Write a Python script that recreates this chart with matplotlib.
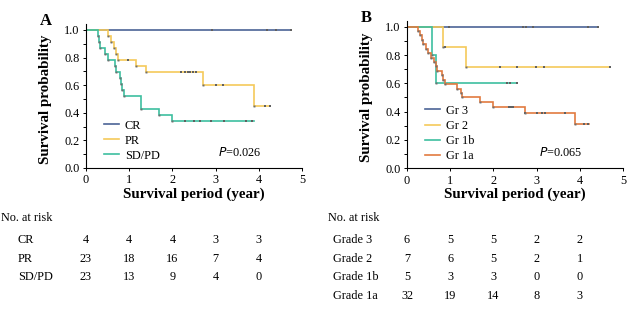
import matplotlib
matplotlib.use("Agg")
import matplotlib.pyplot as plt
import numpy as np

plt.rcParams['font.family'] = ['Liberation Serif', 'DejaVu Serif']

# ---------------- Panel A data ----------------
a_names = ["CR", "PR", "SD/PD"]
a_colors = ["#4b6496", "#f5c95a", "#3dbf9f"]
a_end = [4.75, 4.25, 3.88]
a_event_t = [
    [],
    [0.50, 0.58, 0.65, 0.70, 0.75, 1.16, 1.38, 2.70, 3.88],
    [0.27, 0.30, 0.33, 0.45, 0.50, 0.66, 0.70, 0.78, 0.80, 0.83, 0.87, 1.27, 1.70, 2.00],
]
a_event_s = [
    [],
    [0.957, 0.913, 0.870, 0.826, 0.783, 0.739, 0.696, 0.600, 0.450],
    [0.957, 0.913, 0.870, 0.826, 0.783, 0.739, 0.696, 0.652, 0.609, 0.565, 0.522, 0.430, 0.386, 0.343],
]
a_censor = [
    [2.92, 4.18, 4.40, 4.75],
    [0.98, 2.20, 2.30, 2.35, 2.40, 2.47, 2.55, 3.00, 3.17, 4.15, 4.25],
    [2.30, 2.50, 2.65, 2.90, 3.20, 3.70, 3.85],
]
a_risk_labels = ["CR", "PR", "SD/PD"]
a_risk = [[4, 4, 4, 3, 3], [23, 18, 16, 7, 4], [23, 13, 9, 4, 0]]
a_p = "0.026"

# ---------------- Panel B data ----------------
b_names = ["Gr 3", "Gr 2", "Gr 1b", "Gr 1a"]
b_colors = ["#4b6496", "#f5c95a", "#3dbf9f", "#e27a3f"]
b_end = [4.41, 4.70, 2.55, 4.22]
b_event_t = [
    [],
    [0.84, 1.36],
    [0.59, 0.66],
    [0.26, 0.30, 0.34, 0.38, 0.43, 0.48, 0.55, 0.62, 0.66, 0.70, 0.80, 0.84, 0.87,
     1.15, 1.25, 1.28, 1.69, 2.00, 2.72, 3.89],
]
b_event_s = [
    [],
    [0.857, 0.714],
    [0.800, 0.600],
    [0.969, 0.938, 0.906, 0.875, 0.844, 0.813, 0.781, 0.750, 0.719, 0.688, 0.656, 0.625, 0.594,
     0.563, 0.531, 0.500, 0.469, 0.435, 0.391, 0.315],
]
b_censor = [
    [0.98, 2.69, 2.75, 2.92, 4.20, 4.41],
    [0.88, 2.15, 2.55, 2.99, 3.17, 4.70],
    [2.32, 2.38, 2.55],
    [2.35, 2.40, 2.45, 2.72, 3.00, 3.13, 3.20, 3.65, 4.10, 4.20],
]
b_risk_labels = ["Grade 3", "Grade 2", "Grade 1b", "Grade 1a"]
b_risk = [[6, 5, 5, 2, 2], [7, 6, 5, 2, 1], [5, 3, 3, 0, 0], [32, 19, 14, 8, 3]]
b_p = "0.065"

W, H = 640, 325
fig = plt.figure(figsize=(W / 100, H / 100), dpi=100)
FS = 8.8


def km_xy(evt, surv, end):
    xs, ys = [0.0], [1.0]
    cur = 1.0
    for t, s in zip(evt, surv):
        xs += [t, t]
        ys += [cur, s]
        cur = s
    xs.append(end)
    ys.append(cur)
    return np.array(xs), np.array(ys)


def surv_at(evt, surv, t):
    cur = 1.0
    for e, s in zip(evt, surv):
        if e <= t:
            cur = s
    return cur


def panel(px_left, px_right, py_top1, py_zero, letter, names, colors, ends, evt_t, evt_s, cens,
          risk_labels, risk, pval, label_x, letter_xy, rowlab_x, leg_anchor):
    scale = (py_zero - py_top1)
    ytop = 1.04
    top_px = py_zero - scale * ytop
    ax = fig.add_axes([px_left / W, 1 - py_zero / H, (px_right - px_left) / W, (py_zero - top_px) / H])
    for n, c, e, et, es, cs in zip(names, colors, ends, evt_t, evt_s, cens):
        x, y = km_xy(et, es, e)
        ax.plot(x, y, color=c, lw=1.2, label=n, solid_joinstyle='miter', zorder=2)
        cy = [surv_at(et, es, t) for t in cs]
        ax.plot(cs, cy, ls='none', marker='s', ms=1.6, mew=0, color='#606060', zorder=3)
        if len(et):
            ax.plot(et, es, ls='none', marker='s', ms=1.4, mew=0, color='#707070', zorder=3)
    ax.set_xlim(0, 5)
    ax.set_ylim(0, ytop)
    ax.spines['top'].set_visible(False)
    ax.spines['right'].set_visible(False)
    ax.spines['left'].set_linewidth(0.8)
    ax.spines['bottom'].set_linewidth(0.8)
    ax.set_xticks(range(6))
    ax.set_yticks(np.arange(0, 1.01, 0.2))
    ax.set_yticks(np.arange(0.1, 1.0, 0.2), minor=True)
    ax.set_yticklabels([f"{v:.1f}" for v in np.arange(0, 1.01, 0.2)])
    ax.tick_params(axis='both', which='both', direction='out', length=2.5, width=0.7, labelsize=FS, pad=2)
    ax.set_xlabel("Survival period (year)", fontsize=10.8, fontweight='bold', labelpad=1)
    ax.set_ylabel("Survival probability", fontsize=10.8, fontweight='bold')
    ax.yaxis.set_label_coords((label_x - px_left) / (px_right - px_left), 0.48)
    ax.legend(loc='lower left', bbox_to_anchor=leg_anchor, frameon=False, fontsize=FS,
              handlelength=1.2, handletextpad=0.5, labelspacing=0.25, borderaxespad=0.0)
    ax.text(0.71, 0.105, "$\\it{P}$=" + pval, transform=ax.transAxes, ha='center', va='center', fontsize=FS)
    fig.text(letter_xy[0] / W, 1 - letter_xy[1] / H, letter, fontsize=12, fontweight='bold', ha='left', va='center')
    # risk table
    fig.text(rowlab_x[0] / W, 1 - 218 / H, "No. at risk", fontsize=FS, ha='left', va='center')
    row_y = [240, 259, 277, 296]
    for i, (lab, vals) in enumerate(zip(risk_labels, risk)):
        fig.text(rowlab_x[1] / W, 1 - row_y[i] / H, lab, fontsize=FS, ha='left', va='center')
        for k, v in enumerate(vals):
            xpx = px_left + (px_right - px_left) * k / 5
            fig.text(xpx / W, 1 - row_y[i] / H, str(v), fontsize=FS, ha='center', va='center')
    return ax


panel(86, 302, 30, 168, "A", a_names, a_colors, a_end, a_event_t, a_event_s, a_censor,
      a_risk_labels, a_risk, a_p, 52, (40, 21), (1, 18), (0.06, 0.01))
panel(407, 623, 26.7, 168.3, "B", b_names, b_colors, b_end, b_event_t, b_event_s, b_censor,
      b_risk_labels, b_risk, b_p, 373, (361, 18), (328, 333), (0.06, 0.01))

fig.savefig("out.png", dpi=100)
